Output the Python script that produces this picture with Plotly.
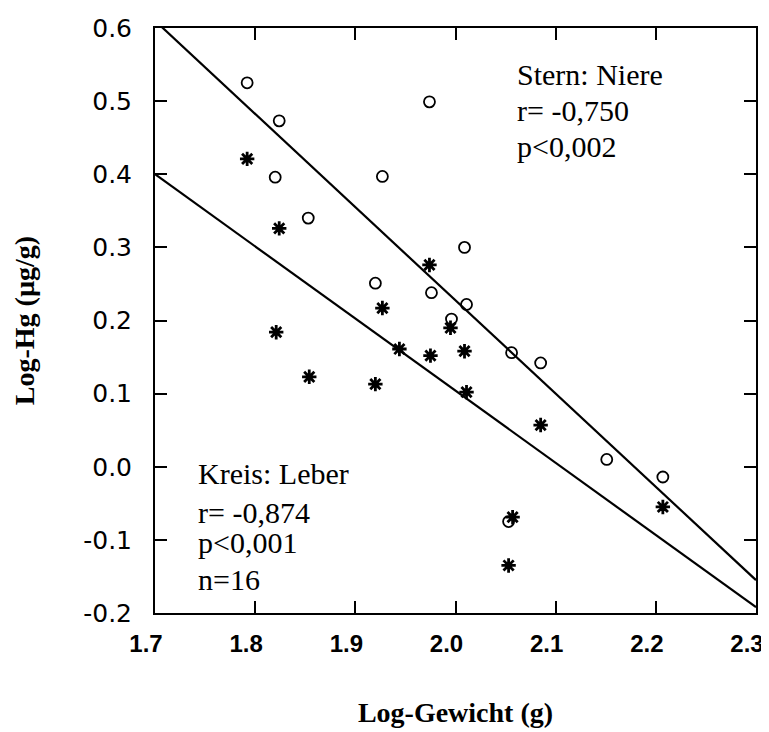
import plotly.graph_objects as go

# Data
kreis_x = [1.792, 1.824, 1.820, 1.853, 1.927, 1.920, 1.974, 2.009, 1.976, 2.011,
           1.996, 2.056, 2.085, 2.151, 2.207, 2.053]
kreis_y = [0.525, 0.473, 0.396, 0.340, 0.397, 0.251, 0.499, 0.300, 0.238, 0.222,
           0.202, 0.156, 0.142, 0.010, -0.014, -0.075]

stern_x = [1.792, 1.824, 1.927, 1.821, 1.854, 1.920, 1.944, 1.974, 1.975, 1.995,
           2.009, 2.011, 2.085, 2.207, 2.057, 2.053]
stern_y = [0.421, 0.326, 0.217, 0.184, 0.123, 0.113, 0.161, 0.276, 0.152, 0.190,
           0.158, 0.102, 0.057, -0.055, -0.069, -0.135]

fit_x = [1.7, 2.3]
upper_fit_y = [0.610, -0.155]
lower_fit_y = [0.400, -0.192]

x_range = [1.7, 2.3]
y_range = [-0.2, 0.6]
x_ticks = [1.7, 1.8, 1.9, 2.0, 2.1, 2.2, 2.3]
x_tick_labels = ["1.7", "1.8", "1.9", "2.0", "2.1", "2.2", "2.3"]
y_ticks = [-0.2, -0.1, 0.0, 0.1, 0.2, 0.3, 0.4, 0.5, 0.6]
y_tick_labels = ["-0.2", "-0.1", "0.0", "0.1", "0.2", "0.3", "0.4", "0.5", "0.6"]

stern_text = ["Stern: Niere", "r= -0,750", "p<0,002"]
kreis_text = ["Kreis: Leber", "r= -0,874", "p<0,001", "n=16"]

fig = go.Figure()
fig.add_trace(go.Scatter(x=fit_x, y=upper_fit_y, mode="lines",
                         line=dict(color="black", width=2.2), showlegend=False))
fig.add_trace(go.Scatter(x=fit_x, y=lower_fit_y, mode="lines",
                         line=dict(color="black", width=2.2), showlegend=False))
fig.add_trace(go.Scatter(x=kreis_x, y=kreis_y, mode="markers",
                         marker=dict(symbol="circle-open", size=11, color="black",
                                     line=dict(width=1.8, color="black")),
                         showlegend=False))
fig.add_trace(go.Scatter(x=stern_x, y=stern_y, mode="markers",
                         marker=dict(symbol="asterisk-open", size=12, color="black",
                                     line=dict(width=2.8, color="black")),
                         showlegend=False))

y_tick_font = dict(family="DejaVu Sans", size=25, color="black")
x_tick_font = dict(family="Liberation Sans", size=24, color="black", weight="bold")
title_font = dict(family="Liberation Serif", size=28, color="black")

common = dict(ticks="inside", ticklen=12, tickwidth=1.5, tickcolor="black",
              showline=True, linecolor="black", linewidth=2, mirror="ticks",
              showgrid=False, zeroline=False)

fig.update_layout(
    xaxis=dict(range=x_range, tickvals=x_ticks, ticktext=x_tick_labels,
               tickfont=x_tick_font, ticklabelstandoff=8, ticklabelshift=-9,
               title=dict(text="<b>Log-Gewicht (g)</b>", font=title_font, standoff=47),
               **common),
    yaxis=dict(range=y_range, tickvals=y_ticks, ticktext=y_tick_labels,
               tickfont=y_tick_font, ticklabelstandoff=16,
               title=dict(text="<b>Log-Hg (µg/g)</b>", font=title_font, standoff=40),
               **common),
)

ann_font = dict(family="Liberation Serif", size=30, color="black")
stern_y_pos = [0.9197, 0.8598, 0.7974]
kreis_y_pos = [0.2393, 0.1718, 0.1205, 0.0581]
for t, yp in zip(stern_text, stern_y_pos):
    fig.add_annotation(x=0.5998, y=yp, xref="paper", yref="paper", text=t,
                       showarrow=False, xanchor="left", yanchor="middle",
                       font=ann_font)
for t, yp in zip(kreis_text, kreis_y_pos):
    fig.add_annotation(x=0.069, y=yp, xref="paper", yref="paper", text=t,
                       showarrow=False, xanchor="left", yanchor="middle",
                       font=ann_font)

fig.update_layout(width=761, height=724,
                  margin=dict(l=147, r=13, t=20, b=119, autoexpand=False),
                  plot_bgcolor="white", paper_bgcolor="white")

fig.write_html("out.html")
